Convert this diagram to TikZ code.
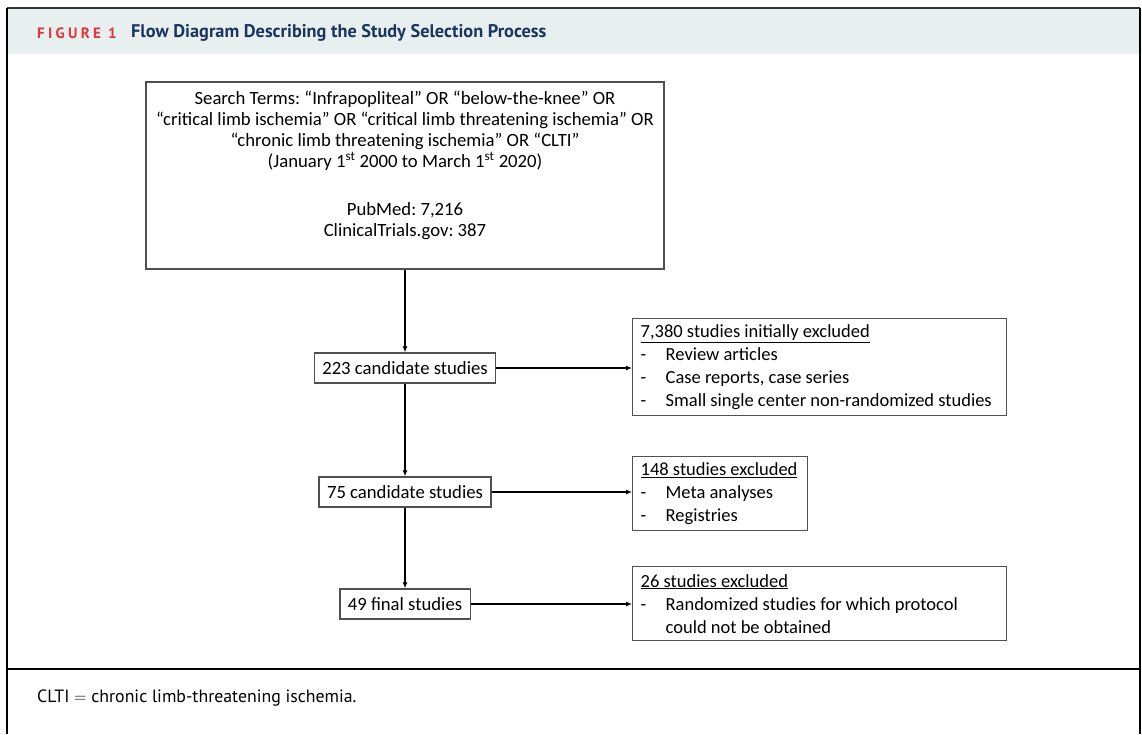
\documentclass[tikz,border=0pt]{standalone}
\usepackage{fontspec}
\usetikzlibrary{arrows.meta}
\frenchspacing
\newfontfamily\carlito{Carlito}
\newfontfamily\ptsans{PT Sans}
\newcommand\diagfont{\carlito\fontsize{18.7}{21}\selectfont\frenchspacing}
\newcommand\exclfont{\carlito\fontsize{18.5}{23}\selectfont\frenchspacing}
\definecolor{headbg}{HTML}{E7F0EF}
\definecolor{figred}{HTML}{E5323B}
\definecolor{navy}{HTML}{1A3560}
\definecolor{boxgray}{HTML}{505050}
\tikzset{
  framebox/.style={draw=boxgray, line width=1.3pt},
  stagebox/.style={framebox, font=\diagfont, inner xsep=8pt, inner ysep=0pt, minimum height=30pt},
  exclbox/.style={framebox, font=\exclfont, align=flush left, anchor=north west, inner xsep=8pt, inner ysep=0pt},
  flow/.style={line width=1.5pt, -{Latex[length=6pt,width=5pt]}},
  rule/.style={line width=2pt, black}
}
\begin{document}
\begin{tikzpicture}[x=1pt,y=-1pt]
\useasboundingbox (0,0) rectangle (1142,734);
% header band and frame
\fill[headbg] (8,9) rectangle (1139,54);
\draw[line width=2pt, black!80] (7,8) -- (1140,8);
\draw[rule] (7,8) -- (7,734);
\draw[rule] (1140,8) -- (1140,734);
\draw[rule] (7,669) -- (1140,669);
\node[anchor=west, inner sep=0pt, text=figred, font=\ptsans\bfseries\fontsize{15}{18}\selectfont\addfontfeature{LetterSpace=22}] (fig) at (37,33) {FIGURE 1};
\node[anchor=west, inner sep=0pt, text=navy, font=\ptsans\bfseries\fontsize{18.3}{21}\selectfont] (title) at (131,33) {Flow Diagram Describing the Study Selection Process};
\node[anchor=west, inner sep=0pt, font=\ptsans\fontsize{17.8}{20}\selectfont] (foot) at (37,698) {CLTI $=$ chronic limb-threatening ischemia.};
% search box
\node[framebox, minimum width=518pt, minimum height=187pt] (search) at (405,175.5) {};
\node[align=center, font=\diagfont, inner sep=0pt] (searchtext) at (405,165) {Search Terms: “Infrapopliteal” OR “below-the-knee” OR\\
“critical limb ischemia” OR “critical limb threatening ischemia” OR\\
“chronic limb threatening ischemia” OR “CLTI”\\
(January 1\textsuperscript{st} 2000 to March 1\textsuperscript{st} 2020)\\[27pt]
PubMed: 7,216\\
ClinicalTrials.gov: 387};
% stages
\node[stagebox] (c223) at (405,368) {223 candidate studies};
\node[stagebox] (c75) at (405,492) {75 candidate studies};
\node[stagebox] (c49) at (405,604) {49 final studies};
% exclusion boxes
\node[exclbox, text width=358pt, minimum height=97pt] (ex1) at (632,318) {\underline{7,380 studies initially excluded}\\
\makebox[25pt][l]{-}Review articles\\
\makebox[25pt][l]{-}Case reports, case series\\
\makebox[25pt][l]{-}Small single center non-randomized studies};
\node[exclbox, text width=159pt, minimum height=74pt] (ex2) at (632,456) {\underline{148 studies excluded}\\
\makebox[25pt][l]{-}Meta analyses\\
\makebox[25pt][l]{-}Registries};
\node[exclbox, text width=358pt, minimum height=74pt] (ex3) at (632,566) {\underline{26 studies excluded}\\
\makebox[25pt][l]{-}Randomized studies for which protocol\\
\hspace*{25pt}could not be obtained};
% connectors
\draw[flow] (search.south) -- (c223.north);
\draw[flow] (c223.south) -- (c75.north);
\draw[flow] (c75.south) -- (c49.north);
\draw[flow] (c223.east) -- (c223.east -| ex1.west);
\draw[flow] (c75.east) -- (c75.east -| ex2.west);
\draw[flow] (c49.east) -- (c49.east -| ex3.west);
\end{tikzpicture}
\end{document}
